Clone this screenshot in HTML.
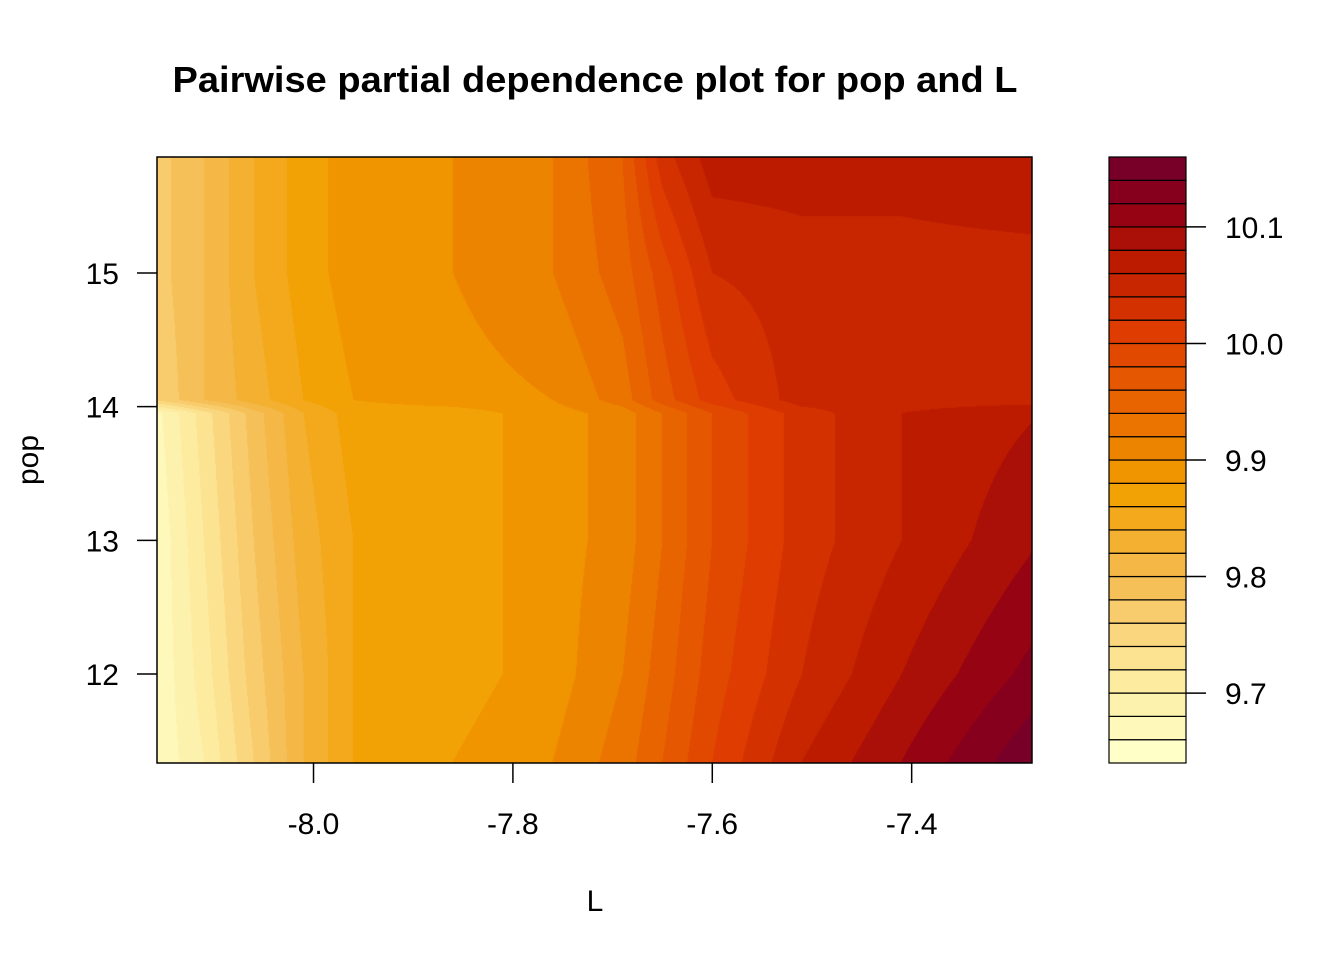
<!DOCTYPE html>
<html><head><meta charset="utf-8">
<style>
body{margin:0;background:#fff;width:1344px;height:960px;overflow:hidden;font-family:"Liberation Sans",Arial,sans-serif;}
#wrap{position:relative;width:1344px;height:960px;}
canvas{position:absolute;left:0;top:0;}
svg{position:absolute;left:0;top:0;}
</style></head>
<body>
<div id="wrap">
<canvas id="cv" width="1344" height="960"></canvas>
<svg id="sv" width="1344" height="960"></svg>
</div>
<script>
const Lvals=[-8.16,-8.11,-8.06,-8.01,-7.96,-7.86,-7.76,-7.69,-7.65,-7.60,-7.51,-7.41,-7.27];
const popVals=[11.35,12,13,13.95,14.05,15,15.85];
const zRow0=[9.66,9.70,9.76,9.82,9.86,9.88,9.90,9.93,9.96,10.00,10.06,10.10,10.16];
const zRow1=[9.66,9.71,9.77,9.82,9.86,9.87,9.89,9.92,9.95,9.99,10.04,10.08,10.13];
const zRow2=[9.66,9.72,9.78,9.83,9.86,9.87,9.89,9.91,9.94,9.98,10.03,10.06,10.10];
const zRow3=[9.67,9.73,9.79,9.84,9.87,9.87,9.89,9.91,9.94,9.98,10.03,10.06,10.08];
const zRow4=[9.76,9.80,9.83,9.86,9.88,9.89,9.90,9.93,9.97,10.01,10.05,10.05,10.05];
const zRow5=[9.77,9.80,9.84,9.87,9.89,9.90,9.92,9.95,9.99,10.04,10.05,10.05,10.05];
const zRow6=[9.77,9.80,9.84,9.87,9.89,9.90,9.92,9.96,10.03,10.07,10.07,10.07,10.08];
const zRows=[zRow0,zRow1,zRow2,zRow3,zRow4,zRow5,zRow6];
const xTicks=[-8.0,-7.8,-7.6,-7.4];
const xTickLabels=["-8.0","-7.8","-7.6","-7.4"];
const yTicks=[12,13,14,15];
const zTicks=[9.7,9.8,9.9,10.0,10.1];
const zTickLabels=["9.7","9.8","9.9","10.0","10.1"];
const zMin=9.64,zStep=0.02,nLevels=26;

const P={x0:157,x1:1032,y0:157,y1:763};
const Lmin=-8.157,Lmax=-7.2793,pMin=11.334,pMax=15.868;
const xs=v=>P.x0+(v-Lmin)/(Lmax-Lmin)*(P.x1-P.x0);
const ys=v=>P.y1-(v-pMin)/(pMax-pMin)*(P.y1-P.y0);
const CB={x0:1109,x1:1186,y0:157,y1:763};
const zs=v=>CB.y1-(v-zMin)/(zStep*nLevels)*(CB.y1-CB.y0);

const stops=[[0,[255,255,200]],[0.15,[252,230,150]],[0.3,[245,186,80]],[0.45,[242,160,0]],[0.6,[232,100,0]],[0.72,[222,60,0]],[0.85,[185,24,0]],[0.93,[145,0,20]],[1,[120,0,40]]];
function col(t){for(let i=1;i<stops.length;i++){if(t<=stops[i][0]){const a=stops[i-1],b=stops[i];const f=(t-a[0])/(b[0]-a[0]);return a[1].map((c,k)=>Math.round(c+(b[1][k]-c)*f));}}return stops[stops.length-1][1];}
const cols=[];for(let i=0;i<nLevels;i++)cols.push(col(i/(nLevels-1)));

function interp(arr,v){let i=0;while(i<arr.length-2&&v>arr[i+1])i++;let f=(v-arr[i])/(arr[i+1]-arr[i]);f=Math.max(0,Math.min(1,f));return [i,f];}
function zAt(L,p){const [i,fx]=interp(Lvals,L);const [j,fy]=interp(popVals,p);
 const a=zRows[j][i]*(1-fx)+zRows[j][i+1]*fx;const b=zRows[j+1][i]*(1-fx)+zRows[j+1][i+1]*fx;return a*(1-fy)+b*fy;}

const ctx=document.getElementById('cv').getContext('2d');
const img=ctx.createImageData(P.x1-P.x0,P.y1-P.y0);
for(let py=0;py<P.y1-P.y0;py++){const p=pMax-(py+0.5)/(P.y1-P.y0)*(pMax-pMin);
 for(let px=0;px<P.x1-P.x0;px++){const L=Lmin+(px+0.5)/(P.x1-P.x0)*(Lmax-Lmin);
  let k=Math.floor((zAt(L,p)-zMin)/zStep);k=Math.max(0,Math.min(nLevels-1,k));
  const c=cols[k],o=(py*(P.x1-P.x0)+px)*4;img.data[o]=c[0];img.data[o+1]=c[1];img.data[o+2]=c[2];img.data[o+3]=255;}}
ctx.putImageData(img,P.x0,P.y0);

const NS="http://www.w3.org/2000/svg",sv=document.getElementById('sv');
function mk(t,a,txt){const e=document.createElementNS(NS,t);for(const k in a)e.setAttribute(k,a[k]);if(txt!==undefined)e.textContent=txt;sv.appendChild(e);return e;}
let e;
e=mk('rect',{x:P.x0,y:P.y0,width:P.x1-P.x0,height:P.y1-P.y0,fill:'none',stroke:'#000','stroke-width':1.5});


for(let i=0;i<nLevels;i++){
 e=mk('rect',{x:CB.x0,y:zs(zMin+(i+1)*zStep),width:CB.x1-CB.x0,height:zs(zMin+i*zStep)-zs(zMin+(i+1)*zStep),fill:'rgb('+cols[i].join(',')+')',stroke:'#000','stroke-width':1.2});
 
 
}
xTicks.forEach((v,i)=>{
 e=mk('line',{x1:xs(v),x2:xs(v),y1:P.y1,y2:P.y1+20,stroke:'#000','stroke-width':1.5});
 
 
 e=mk('text',{x:xs(v),y:834,'text-anchor':'middle','font-size':30},xTickLabels[i]);
 
 
});
yTicks.forEach(v=>{
 e=mk('line',{x1:P.x0-20,x2:P.x0,y1:ys(v),y2:ys(v),stroke:'#000','stroke-width':1.5});
 
 
 e=mk('text',{x:119,y:ys(v)+11,'text-anchor':'end','font-size':30},String(v));
 
 
});
zTicks.forEach((v,i)=>{
 e=mk('line',{x1:CB.x1,x2:CB.x1+20,y1:zs(v),y2:zs(v),stroke:'#000','stroke-width':1.5});
 
 
 e=mk('text',{x:1225,y:zs(v)+11,'font-size':30},zTickLabels[i]);
 
 
});
e=mk('text',{x:595,y:92,'text-anchor':'middle','font-size':36,'font-weight':'bold',textLength:845,lengthAdjust:'spacingAndGlyphs'},'Pairwise partial dependence plot for pop and L');


e=mk('text',{x:595,y:911,'text-anchor':'middle','font-size':30},'L');


e=mk('text',{x:38,y:460,'text-anchor':'middle','font-size':30,transform:'rotate(-90 38 460)'},'pop');


</script>
</body></html>
